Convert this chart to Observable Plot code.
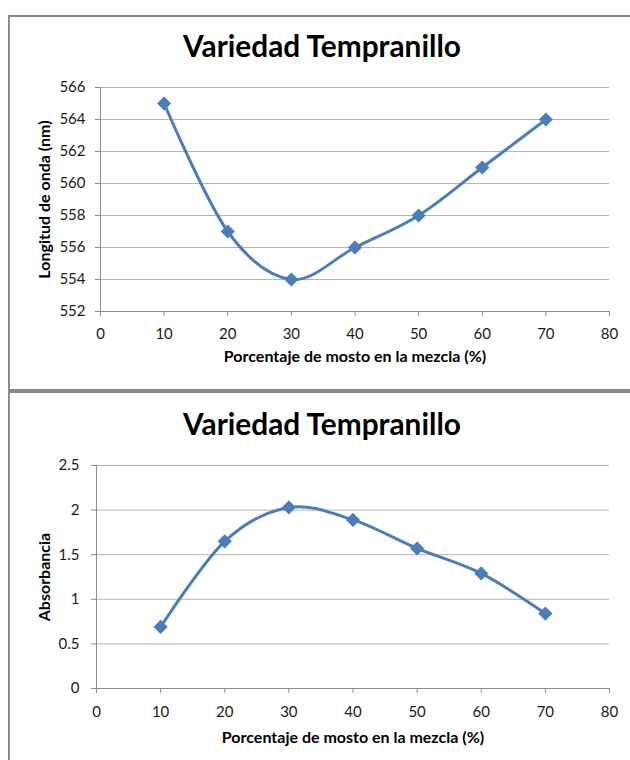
<!DOCTYPE html>
<html>
<head>
<meta charset="utf-8">
<script src="https://cdn.jsdelivr.net/npm/d3@7"></script>
<script src="https://cdn.jsdelivr.net/npm/@observablehq/plot@0.6"></script>
<style>
  html, body { margin: 0; padding: 0; background: #fff; }
  body { width: 630px; height: 760px; position: relative; overflow: hidden; font-family: Lato, "Open Sans", sans-serif; }
  .box { position: absolute; border: 2px solid #8a8a8a; border-right: none; box-sizing: border-box; }
  .title { position: absolute; left: 0; width: 644px; text-align: center; font-weight: bold; font-size: 29.8px; color: #000; line-height: 1; }
  .chart { position: absolute; left: 0; }
</style>
</head>
<body>
<div class="box" style="left:8px; top:15px; width:640px; height:376px;"></div>
<div class="box" style="left:8px; top:391px; width:640px; height:400px;"></div>
<div class="title" style="top:31px;">Variedad Tempranillo</div>
<div class="title" style="top:409px;">Variedad Tempranillo</div>
<div id="c1" class="chart" style="top:0px;"></div>
<div id="c2" class="chart" style="top:390px;"></div>
<script>
// Data
const porcentaje = [10, 20, 30, 40, 50, 60, 70];
const longitudOnda = [565, 557, 554, 556, 558, 561, 564];
const absorbancia = [0.69, 1.65, 2.03, 1.89, 1.57, 1.29, 0.84];

const xTicks = [0, 10, 20, 30, 40, 50, 60, 70, 80];
const yTicks1 = [552, 554, 556, 558, 560, 562, 564, 566];
const yTicks2 = [0, 0.5, 1, 1.5, 2, 2.5];

const xTitle = "Porcentaje de mosto en la mezcla (%)";
const yTitle1 = "Longitud de onda (nm)";
const yTitle2 = "Absorbancia";

const BLUE = "#4a7ebb";

function makeChart({values, yTicks, yLabel, height, marginLeft, marginTop, marginBottom, yPad, xPad, yTitleDx, xTitleDy, yFormat}) {
  const data = porcentaje.map((x, i) => ({x, y: values[i]}));
  const yDomain = [yTicks[0], yTicks[yTicks.length - 1]];
  return Plot.plot({
    width: 630,
    height,
    marginLeft,
    marginRight: 21,
    marginTop,
    marginBottom,
    style: {fontFamily: "Lato, 'Open Sans', sans-serif", fontSize: "15px", background: "transparent", overflow: "visible", color: "#1a1a1a"},
    x: {domain: [0, 80]},
    y: {domain: yDomain},
    marks: [
      Plot.ruleY(yTicks, {stroke: "#b5b5b5", strokeWidth: 1}),
      Plot.ruleY([yDomain[0]], {stroke: "#8c8c8c", strokeWidth: 1}),
      Plot.ruleX([0], {stroke: "#8c8c8c", strokeWidth: 1}),
      Plot.axisX({ticks: xTicks, tickSize: 5, tickPadding: xPad, stroke: "#8c8c8c", fill: "#1a1a1a", label: null, tickFormat: d => String(d)}),
      Plot.axisY({ticks: yTicks, tickSize: 5, tickPadding: yPad, stroke: "#8c8c8c", fill: "#1a1a1a", label: null, tickFormat: yFormat}),
      Plot.line(data, {x: "x", y: "y", stroke: BLUE, strokeWidth: 3, curve: d3.curveCardinal.tension(0)}),
      Plot.dot(data, {x: "x", y: "y", symbol: "diamond2", r: 6.4, fill: BLUE, stroke: null}),
      Plot.text([yLabel], {frameAnchor: "left", textAnchor: "middle", rotate: -90, dx: yTitleDx, fontWeight: "bold", fontSize: 16, fill: "#000"}),
      Plot.text([xTitle], {frameAnchor: "bottom", textAnchor: "middle", dy: xTitleDy, fontWeight: "bold", fontSize: 16, fill: "#000"})
    ]
  });
}

document.getElementById("c1").append(makeChart({
  values: longitudOnda, yTicks: yTicks1, yLabel: yTitle1,
  height: 390, marginLeft: 100, marginTop: 87, marginBottom: 79,
  yPad: 10, xPad: 12, yTitleDx: -56, xTitleDy: 50,
  yFormat: d => String(d)
}));

document.getElementById("c2").append(makeChart({
  values: absorbancia, yTicks: yTicks2, yLabel: yTitle2,
  height: 370, marginLeft: 96, marginTop: 75, marginBottom: 72,
  yPad: 12, xPad: 13, yTitleDx: -52, xTitleDy: 54,
  yFormat: d => String(d)
}));
</script>
</body>
</html>
